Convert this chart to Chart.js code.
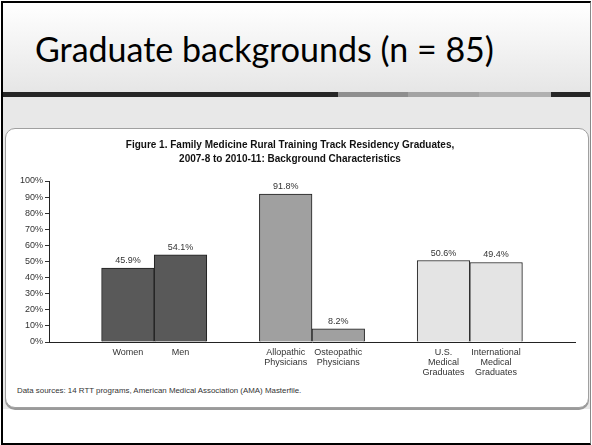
<!DOCTYPE html>
<html>
<head>
<meta charset="utf-8">
<script src="https://cdn.jsdelivr.net/npm/chart.js@4.4.1/dist/chart.umd.min.js"></script>
<style>
  html, body { margin: 0; padding: 0; background: #fff; }
  body { width: 592px; height: 445px; position: relative; overflow: hidden; }
  #slide { position: absolute; left: 1px; top: 1px; width: 587px; height: 440px;
           border-left: 2px solid #000; border-top: 2px solid #000; border-bottom: 2px solid #000;
           border-right: 1px solid #888; background: #fff; }
  #header { position: absolute; left: 3px; top: 3px; width: 587px; height: 89px;
            background: linear-gradient(#ffffff, #e6e6e6); }
  #heading { position: absolute; left: 35px; top: 29px; margin: 0;
             font-family: Lato, "Open Sans", sans-serif; font-weight: 400; font-size: 34px;
             color: #000; line-height: 40px; white-space: nowrap; }
  .bar { position: absolute; top: 92px; height: 5px; }
  #band { position: absolute; left: 3px; top: 97px; width: 587px; height: 345px; background: #e8e8e8; }
  #lower { position: absolute; left: 3px; top: 409px; width: 587px; height: 33px; background: #fff; }
  #figbox { position: absolute; left: 5px; top: 128px; width: 582px; height: 278px;
            background: #fff; border: 1px solid #a0a0a0; border-radius: 10px;
            box-shadow: 0 2px 0 #9a9a9a; }
  #chartwrap { position: absolute; left: 5px; top: 130px; width: 583px; height: 255px; }
  #footer { position: absolute; left: 17px; top: 386px; margin: 0;
            font-family: "Liberation Sans", Arial, sans-serif; font-size: 7.9px; color: #333;
            white-space: nowrap; line-height: 10px; }
</style>
</head>
<body>
<div id="slide"></div>
<div id="band"></div>
<div id="header"></div>
<h1 id="heading">Graduate backgrounds (n = 85)</h1>
<div class="bar" style="left:3px;width:335px;background:#262626"></div>
<div class="bar" style="left:338px;width:70px;background:#8e8e8e"></div>
<div class="bar" style="left:408px;width:71px;background:#a3a3a3"></div>
<div class="bar" style="left:479px;width:72px;background:#b0b0b0"></div>
<div class="bar" style="left:551px;width:39px;background:#262626"></div>
<div id="lower"></div>
<div id="figbox"></div>
<div id="chartwrap"><canvas id="c" width="583" height="255"></canvas></div>
<p id="footer">Data sources: 14 RTT programs, American Medical Association (AMA) Masterfile.</p>

<script>
// ---- data ----
const categories = [
  '',
  'Women',
  'Men',
  '',
  ['Allopathic', 'Physicians'],
  ['Osteopathic', 'Physicians'],
  '',
  ['U.S.', 'Medical', 'Graduates'],
  ['International', 'Medical', 'Graduates'],
  ''
];
const values = [null, 45.9, 54.1, null, 91.8, 8.2, null, 50.6, 49.4, null];
const valueLabels = ['', '45.9%', '54.1%', '', '91.8%', '8.2%', '', '50.6%', '49.4%', ''];
const yTicks = [0, 10, 20, 30, 40, 50, 60, 70, 80, 90, 100];
const titleLines = [
  'Figure 1. Family Medicine Rural Training Track Residency Graduates,',
  '2007-8 to 2010-11: Background Characteristics'
];
const groupColors = ['#fff', '#595959', '#595959', '#fff', '#a0a0a0', '#a0a0a0', '#fff', '#e4e4e4', '#e4e4e4', '#fff'];

const FONT = '"Liberation Sans", Arial, sans-serif';

const valueLabelPlugin = {
  id: 'valueLabels',
  afterDatasetsDraw(chart) {
    const meta = chart.getDatasetMeta(0);
    const ctx = chart.ctx;
    ctx.save();
    ctx.font = '9px ' + FONT;
    ctx.fillStyle = '#333';
    ctx.textAlign = 'center';
    ctx.textBaseline = 'bottom';
    meta.data.forEach((el, i) => {
      if (values[i] == null) return;
      ctx.fillText(valueLabels[i], el.x, el.y - 3);
    });
    ctx.restore();
  }
};

new Chart(document.getElementById('c'), {
  type: 'bar',
  data: {
    labels: categories,
    datasets: [{
      data: values,
      backgroundColor: groupColors,
      borderColor: '#1e1e1e',
      borderWidth: 1,
      borderSkipped: 'bottom',
      barPercentage: 1,
      categoryPercentage: 1
    }]
  },
  options: {
    responsive: false,
    animation: false,
    devicePixelRatio: 1,
    layout: { padding: { left: 0, right: 13, top: 0, bottom: 0 } },
    plugins: {
      legend: { display: false },
      tooltip: { enabled: false },
      title: {
        display: true,
        text: titleLines,
        color: '#111',
        font: { family: FONT, size: 10, weight: 'bold', lineHeight: 1.4 },
        padding: { top: 8, bottom: 15 }
      }
    },
    scales: {
      x: {
        grid: { display: true, drawOnChartArea: false, drawTicks: false },
        border: { display: true, color: '#222', width: 1 },
        ticks: {
          color: '#333',
          font: { family: FONT, size: 9, lineHeight: 1.15 },
          padding: 5,
          maxRotation: 0,
          autoSkip: false
        },
        afterFit(s) { s.height = 43; }
      },
      y: {
        min: 0,
        max: 100,
        afterBuildTicks(s) { s.ticks = yTicks.map(v => ({ value: v })); },
        grid: { display: true, drawOnChartArea: false, drawTicks: true, tickLength: 4, color: '#333' },
        border: { display: true, color: '#222', width: 1 },
        ticks: {
          color: '#333',
          font: { family: FONT, size: 9 },
          padding: 2,
          callback: v => v + '%'
        },
        afterFit(s) { s.width = 44; }
      }
    }
  },
  plugins: [valueLabelPlugin]
});
</script>
</body>
</html>
